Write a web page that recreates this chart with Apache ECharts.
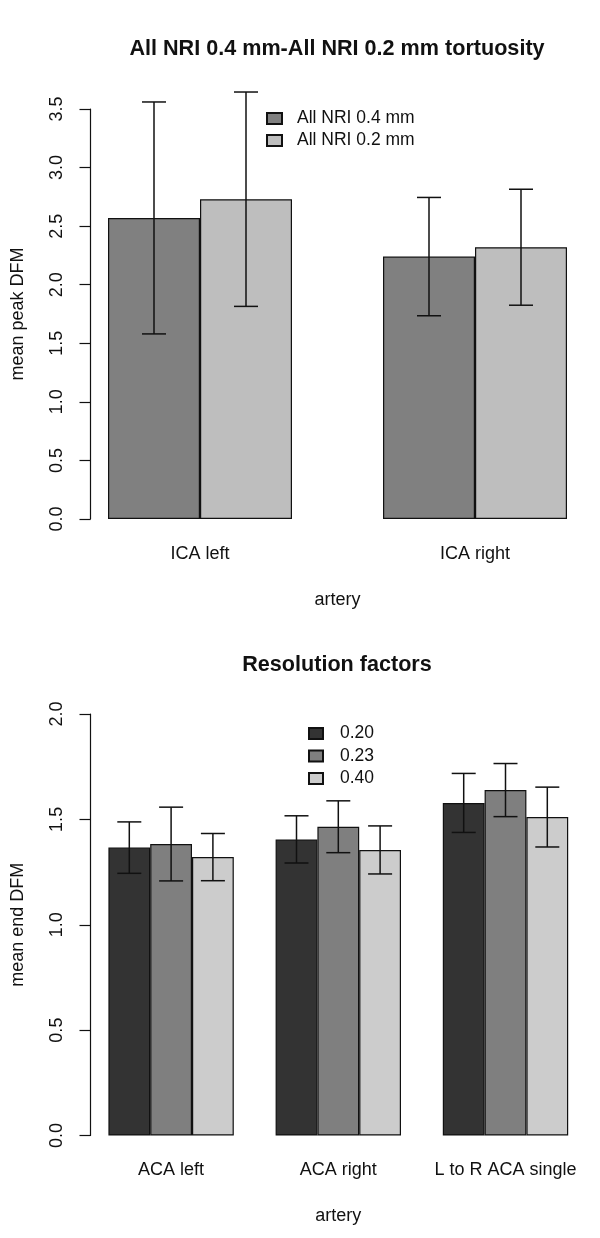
<!DOCTYPE html>
<html>
<head>
<meta charset="utf-8">
<script src="https://cdn.jsdelivr.net/npm/echarts@6/dist/echarts.min.js"></script>
<style>
html,body{margin:0;padding:0;background:#fff;}
#chart{width:600px;height:1238px;}
</style>
</head>
<body>
<div id="chart"></div>
<script>
// ---- Data: top chart ----
const topTitle = 'All NRI 0.4 mm-All NRI 0.2 mm tortuosity';
const topCategories = ['ICA left', 'ICA right'];
const topSeriesNames = ['All NRI 0.4 mm', 'All NRI 0.2 mm'];
const topMean04 = [2.57, 2.24];
const topErr04 = [0.99, 0.505];
const topMean02 = [2.73, 2.32];
const topErr02 = [0.915, 0.495];
const topYTicks = [0, 0.5, 1.0, 1.5, 2.0, 2.5, 3.0, 3.5];

// ---- Data: bottom chart ----
const botTitle = 'Resolution factors';
const botCategories = ['ACA left', 'ACA right', 'L to R ACA single'];
const botSeriesNames = ['0.20', '0.23', '0.40'];
const botMean020 = [1.366, 1.405, 1.578];
const botErr020 = [0.122, 0.112, 0.140];
const botMean023 = [1.383, 1.465, 1.639];
const botErr023 = [0.175, 0.123, 0.126];
const botMean040 = [1.321, 1.355, 1.511];
const botErr040 = [0.112, 0.114, 0.142];
const botYTicks = [0, 0.5, 1.0, 1.5, 2.0];

const FONT = "'Liberation Sans', Arial, sans-serif";
const TXT = '#111';

function errData(means, errs) {
  return means.map((m, i) => [i, m - errs[i], m + errs[i]]);
}
function errRenderer(nSeries, idx, barW) {
  return function (params, api) {
    const cat = api.value(0), lo = api.value(1), hi = api.value(2);
    const off = (idx - (nSeries - 1) / 2) * barW;
    const pLo = api.coord([cat, lo]);
    const pHi = api.coord([cat, hi]);
    const x = pLo[0] + off;
    const cap = 12;
    const style = { stroke: '#111', lineWidth: 1.5 };
    return {
      type: 'group',
      children: [
        { type: 'line', shape: { x1: x, y1: pHi[1], x2: x, y2: pLo[1] }, style: style },
        { type: 'line', shape: { x1: x - cap, y1: pHi[1], x2: x + cap, y2: pHi[1] }, style: style },
        { type: 'line', shape: { x1: x - cap, y1: pLo[1], x2: x + cap, y2: pLo[1] }, style: style }
      ]
    };
  };
}

const topBarW = 92, botBarW = 41.8;
const topColors = ['#808080', '#bebebe'];
const botColors = ['#333333', '#7f7f7f', '#cccccc'];

function yAxisCfg(gridIndex, ticks, name, offset) {
  return {
    type: 'value', gridIndex: gridIndex,
    min: ticks[0], max: ticks[ticks.length - 1], interval: 0.5,
    offset: offset,
    name: name, nameLocation: 'middle', nameGap: 63,
    nameTextStyle: { fontFamily: FONT, fontSize: 18, color: TXT },
    axisLine: { show: true, lineStyle: { color: '#111', width: 1.2 } },
    axisTick: { show: true, length: 11, lineStyle: { color: '#111', width: 1.2 } },
    axisLabel: { rotate: 90, margin: 24, fontFamily: FONT, fontSize: 18, color: TXT,
      formatter: v => v.toFixed(1) },
    splitLine: { show: false }
  };
}
function xAxisCfg(gridIndex, cats) {
  return {
    type: 'category', gridIndex: gridIndex, data: cats,
    name: 'artery', nameLocation: 'middle', nameGap: 72,
    nameTextStyle: { fontFamily: FONT, fontSize: 18, color: TXT },
    axisLine: { show: false }, axisTick: { show: false },
    axisLabel: { interval: 0, hideOverlap: false, margin: 26, fontFamily: FONT, fontSize: 18, color: TXT }
  };
}

const series = [];
const topMeans = [topMean04, topMean02], topErrs = [topErr04, topErr02];
topSeriesNames.forEach((n, i) => {
  series.push({
    type: 'bar', name: n, xAxisIndex: 0, yAxisIndex: 0,
    data: topMeans[i], barWidth: topBarW, barGap: '0%',
    itemStyle: { color: topColors[i], borderColor: '#111', borderWidth: 1.2 },
    silent: true
  });
});
topSeriesNames.forEach((n, i) => {
  series.push({
    type: 'custom', name: 'err-top-' + i, xAxisIndex: 0, yAxisIndex: 0,
    data: errData(topMeans[i], topErrs[i]), renderItem: errRenderer(2, i, topBarW), z: 5, silent: true
  });
});
const botMeans = [botMean020, botMean023, botMean040], botErrs = [botErr020, botErr023, botErr040];
botSeriesNames.forEach((n, i) => {
  series.push({
    type: 'bar', name: n, xAxisIndex: 1, yAxisIndex: 1,
    data: botMeans[i], barWidth: botBarW, barGap: '0%',
    itemStyle: { color: botColors[i], borderColor: '#111', borderWidth: 1.2 },
    silent: true
  });
});
botSeriesNames.forEach((n, i) => {
  series.push({
    type: 'custom', name: 'err-bot-' + i, xAxisIndex: 1, yAxisIndex: 1,
    data: errData(botMeans[i], botErrs[i]), renderItem: errRenderer(3, i, botBarW), z: 5, silent: true
  });
});

const chart = echarts.init(document.getElementById('chart'), null, { renderer: 'canvas' });
chart.setOption({
  backgroundColor: '#fff',
  animation: false,
  graphic: [
    { type: 'text', x: 337, y: 49, style: { text: topTitle, textAlign: 'center', textVerticalAlign: 'middle',
      font: "bold 21.6px 'Liberation Sans', Arial, sans-serif", fill: TXT } },
    { type: 'text', x: 337, y: 665, style: { text: botTitle, textAlign: 'center', textVerticalAlign: 'middle',
      font: "bold 21.6px 'Liberation Sans', Arial, sans-serif", fill: TXT } }
  ],
  legend: [
    { data: topSeriesNames, orient: 'vertical', left: 266, top: 107.5, padding: 0, itemWidth: 15, itemHeight: 11,
      itemGap: 0, icon: 'rect', selectedMode: false,
      textStyle: { fontFamily: FONT, fontSize: 17.5, color: TXT, lineHeight: 22, padding: [0, 0, 0, 10] } },
    { data: botSeriesNames, orient: 'vertical', left: 308, top: 722.5, padding: 0, itemWidth: 14, itemHeight: 11,
      itemGap: 0.5, icon: 'rect', selectedMode: false,
      textStyle: { fontFamily: FONT, fontSize: 17.5, color: TXT, lineHeight: 22, padding: [0, 0, 0, 12] } }
  ],
  grid: [
    { left: 62.5, top: 109, width: 550, height: 410, containLabel: false, outerBoundsMode: 'none' },
    { left: 87.5, top: 714, width: 501.6, height: 421.5, containLabel: false, outerBoundsMode: 'none' }
  ],
  xAxis: [xAxisCfg(0, topCategories), xAxisCfg(1, botCategories)],
  yAxis: [yAxisCfg(0, topYTicks, 'mean peak DFM', -28), yAxisCfg(1, botYTicks, 'mean end DFM', -3)],
  series: series
});
</script>
</body>
</html>
